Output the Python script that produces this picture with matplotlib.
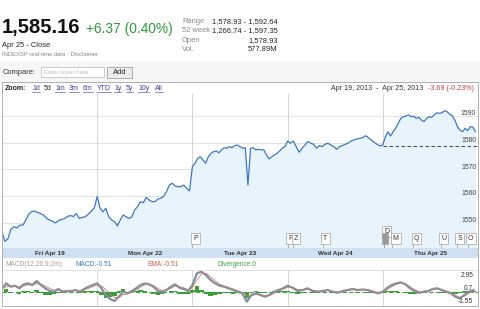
import matplotlib
matplotlib.use('Agg')
import matplotlib.pyplot as plt
from matplotlib.patches import Rectangle
from matplotlib import transforms

plt.rcParams['font.family'] = ['Liberation Sans', 'DejaVu Sans']

# ---------------- data ----------------
day_labels = ['Fri Apr 19', 'Mon Apr 22', 'Tue Apr 23', 'Wed Apr 24', 'Thu Apr 25']

price_fri = [1546.6, 1543.0, 1544.0, 1547.5, 1548.5, 1548.0, 1549.1, 1549.0, 1551.0, 1553.2,
             1554.2, 1554.3, 1553.8, 1553.4, 1552.8, 1551.6, 1551.0, 1550.5, 1549.9, 1550.8,
             1551.2, 1551.5, 1552.3, 1552.7, 1552.3, 1553.4, 1551.6, 1552.0, 1552.2, 1553.2,
             1554.3, 1555.5]
price_mon = [1559.8, 1555.4, 1554.1, 1555.4, 1552.2, 1551.0, 1550.4, 1548.8, 1551.0, 1552.9,
             1552.2, 1551.6, 1552.2, 1554.8, 1556.0, 1557.9, 1557.5, 1559.5, 1558.5, 1557.9,
             1557.9, 1558.8, 1559.2, 1559.8, 1561.6, 1564.1, 1564.8, 1563.8, 1563.5, 1563.5,
             1564.1, 1562.9, 1561.9]
price_tue = [1571.0, 1572.3, 1574.1, 1574.7, 1573.5, 1572.3, 1574.7, 1576.0, 1576.6, 1576.9,
             1576.2, 1577.3, 1578.1, 1577.9, 1578.5, 1578.1, 1578.9, 1579.1, 1578.5, 1577.9,
             1578.1, 1564.1, 1577.9, 1578.1, 1577.3, 1577.5, 1577.3, 1577.3, 1575.4, 1573.9,
             1574.7, 1575.4, 1576.0, 1576.9, 1577.9, 1578.5]
price_wed = [1580.6, 1579.8, 1580.6, 1578.5, 1576.4, 1577.9, 1579.1, 1580.4, 1579.8, 1579.4,
             1577.9, 1578.9, 1578.5, 1579.4, 1579.8, 1579.1, 1578.5, 1577.5, 1578.5, 1578.9,
             1579.4, 1579.8, 1580.6, 1581.0, 1581.4, 1581.6, 1581.9, 1582.6, 1581.9, 1581.0,
             1580.1, 1579.4, 1578.8]
price_thu = [1579.1, 1582.2, 1584.1, 1582.5, 1584.1, 1585.4, 1587.3, 1589.1, 1589.7, 1590.0,
             1590.4, 1589.7, 1590.0, 1589.1, 1589.5, 1588.5, 1587.9, 1589.1, 1589.7, 1589.5,
             1590.4, 1591.2, 1591.0, 1591.2, 1592.0, 1591.6, 1590.7, 1590.0, 1588.5, 1586.0,
             1584.7, 1584.1, 1585.4, 1584.5, 1586.0, 1585.8, 1584.1]
price_days = [price_fri, price_mon, price_tue, price_wed, price_thu]
prev_close = 1578.93
price_ticks = [1550, 1560, 1570, 1580, 1590]

macd_fri = [0.71, 1.57, 0.99, 1.16, 0.71, 1.4, 1.57, 1.28, 1.97, 1.28, 0.71, 0.24, 0.12, 0.59,
            0.12, 0.24, 0.24, 0.41, 0.12, 0.59, 0.99, 1.28]
macd_mon = [1.57, 0.71, -0.45, -1.14, -1.49, -0.74, 0.12, -0.16, 0.24, 0.71, 1.28, 1.57, 1.4,
            0.99, 0.24, 0.12, 0.41, 0.99, 1.4, 0.81, 0.59, 0.24]
macd_tue = [1.28, 3.3, 3.58, 3.0, 2.15, 1.57, 1.16, 0.99, 0.71, 0.41, 0.12, -0.16, -1.6, -0.45,
            -0.16, -0.45, -0.74, -0.45, 0.12, 0.41, 0.71]
macd_wed = [1.16, 0.81, 0.24, 0.41, 0.71, 0.24, 0.12, 0.24, 0.41, 0.12, -0.05, 0.24, 0.41, 0.59,
            0.41, 0.5, 0.41, 0.12, -0.16]
macd_thu = [0.12, 0.81, 1.28, 1.57, 1.74, 1.4, 0.71, 0.24, -0.05, 0.12, 0.24, 0.59, 0.71, 0.41,
            0.12, -0.16, -0.74, -1.03, -0.45, 0.12, 0.41]
ema_fri = [0.6, 1.0, 1.1, 1.1, 0.95, 1.1, 1.3, 1.3, 1.5, 1.45, 1.1, 0.7, 0.4, 0.45, 0.3, 0.25,
           0.25, 0.33, 0.25, 0.4, 0.7, 1.0]
ema_mon = [1.3, 1.1, 0.5, -0.3, -0.9, -0.9, -0.4, -0.25, 0.0, 0.4, 0.9, 1.3, 1.4, 1.2, 0.7, 0.35,
           0.38, 0.7, 1.1, 1.0, 0.8, 0.5]
ema_tue = [0.8, 2.2, 3.2, 3.3, 2.7, 2.0, 1.45, 1.1, 0.85, 0.6, 0.3, 0.0, -0.6, -0.6, -0.35, -0.4,
           -0.6, -0.55, -0.15, 0.25, 0.55]
ema_wed = [0.9, 0.9, 0.5, 0.45, 0.6, 0.4, 0.2, 0.2, 0.33, 0.22, 0.05, 0.15, 0.33, 0.5, 0.45,
           0.48, 0.44, 0.25, 0.0]
ema_thu = [0.05, 0.5, 1.0, 1.4, 1.6, 1.5, 1.0, 0.5, 0.1, 0.08, 0.18, 0.45, 0.65, 0.5, 0.25,
           -0.05, -0.5, -0.85, -0.65, -0.15, 0.25]
macd_days = [macd_fri, macd_mon, macd_tue, macd_wed, macd_thu]
ema_days = [ema_fri, ema_mon, ema_tue, ema_wed, ema_thu]
macd_ticks = [2.95, 0.7, -1.55]

flag_letters = ['P', 'F', 'Z', 'T', 'D', '', 'M', 'Q', 'U', 'S', 'O']
flag_times = [2.0, 3.0, 3.06, 3.37, 4.01, 4.01, 4.10, 4.32, 4.61, 4.78, 4.89]
flag_levels = [0, 0, 0, 0, 1, 0, 0, 0, 0, 0, 0]

zoom_links = ['1d', '5d', '1m', '3m', '6m', 'YTD', '1y', '5y', '10y', 'All']
zoom_x = [32, 44, 55, 69, 83, 97, 114, 126, 138, 155]

# ---------------- figure ----------------
W, H = 480, 309
fig = plt.figure(figsize=(4.8, 3.09), dpi=100)
fig.patch.set_facecolor('white')

bg = fig.add_axes([0, 0, 1, 1])
bg.set_xlim(0, W)
bg.set_ylim(H, 0)
bg.axis('off')

# header
bg.text(2, 32.8, '1,585.16', fontsize=14.5, fontweight='bold', color='#111', va='baseline')
bg.text(86, 32.5, '+6.37 (0.40%)', fontsize=9.9, color='#2f9a3a', va='baseline')
bg.text(2, 47.2, 'Apr 25 - Close', fontsize=5.4, color='#222', va='baseline')
bg.text(2, 55.6, 'INDEXSP real-time data - Disclaimer', fontsize=4.2, color='#888', va='baseline')
stat_labels = ['Range', '52 week', 'Open', 'Vol.']
stat_values = ['1,578.93 - 1,592.64', '1,266.74 - 1,597.35', '1,578.93', '577.89M']
for i, (lab, val) in enumerate(zip(stat_labels, stat_values)):
    yb = 23.2 + 9.3 * i
    bg.text(182, yb, lab, fontsize=5.4, color='#888', va='baseline')
    bg.text(277.5, yb, val, fontsize=5.4, color='#222', va='baseline', ha='right')

# compare row
bg.add_patch(Rectangle((0, 61), W, 21, fc='#f6f6f6', ec='none'))
bg.text(3, 74, 'Compare:', fontsize=5.4, color='#333', va='baseline')
bg.add_patch(Rectangle((41, 66.5), 63, 10.5, fc='white', ec='#c4c4c4', lw=0.6))
bg.text(44, 74, 'Enter ticker here', fontsize=4.3, color='#c0c0c0', va='baseline')
bg.add_patch(Rectangle((107, 66.5), 25, 11, fc='#ececec', ec='#a0a0a0', lw=0.6))
bg.text(119.5, 74.3, 'Add', fontsize=5.4, color='#222', va='baseline', ha='center')

# chart frame area
bg.add_patch(Rectangle((2, 82), 476, 224, fc='white', ec='none'))
bg.text(5, 90.5, 'Zoom:', fontsize=5.0, fontweight='bold', color='#222', va='baseline')
link_texts = []
for lab, x in zip(zoom_links, zoom_x):
    col = '#222' if lab == '5d' else '#3a3aa8'
    t = bg.text(x, 90.5, lab, fontsize=5.0, color=col, va='baseline')
    link_texts.append((lab, t))
bg.text(423, 90.5, 'Apr 19, 2013  -  Apr 25, 2013', fontsize=5.1, color='#333',
        va='baseline', ha='right')
bg.text(474, 90.5, '-3.69 (-0.23%)', fontsize=5.1, color='#c8403f', va='baseline', ha='right')

# date band
bg.add_patch(Rectangle((2, 248), 476, 10, fc='#cfe0f3', ec='none'))
bg.plot([2, 478], [248.3, 248.3], color='#b8cde6', lw=0.6)
# MACD text row
bg.text(5, 266, 'MACD(12,26,9,2m)', fontsize=4.8, color='#a0a0a0', va='baseline')
bg.text(76, 266, 'MACD:-0.51', fontsize=4.8, color='#3f7cc0', va='baseline')
bg.text(147, 266, 'EMA:-0.51', fontsize=4.8, color='#c4604a', va='baseline')
bg.text(217, 266, 'Divergence:0', fontsize=4.8, color='#45a045', va='baseline')
bg.plot([2, 478], [270, 270], color='#dddddd', lw=0.6)

n_days = len(day_labels)

# ---------------- main price chart ----------------
ymin, ymax = 1540.5, 1598.25
ax = fig.add_axes([2 / W, 1 - 248 / H, 476 / W, 154 / H])
ax.set_xlim(0, n_days)
ax.set_ylim(ymin, ymax)
ax.axis('off')

times, prices = [], []
for d, vals in enumerate(price_days):
    n = len(vals)
    times += [d + i / n for i in range(n)]
    prices += vals

for v in price_ticks:
    ax.axhline(v, color='#e2e2e2', lw=0.7, zorder=1)
for d in range(1, n_days):
    ax.axvline(d, color='#d6d6d6', lw=0.7, zorder=1)
ax.fill_between(times, prices, ymin, color='#e9f3fc', zorder=2, lw=0)
ax.plot(times, prices, color='#3a78c4', lw=0.9, zorder=3)
ax.plot([n_days - 1, n_days], [prev_close, prev_close], color='#555555', lw=0.8,
        ls=(0, (3.2, 2.2)), zorder=4)

lab_trans = transforms.offset_copy(transforms.blended_transform_factory(ax.transAxes, ax.transData),
                                   fig=fig, y=1.6, units='points')
for v in price_ticks:
    ax.text(0.996, v, str(v), transform=lab_trans, fontsize=4.9, color='#444',
            ha='right', va='center', zorder=6)

xt = ax.get_xaxis_transform()
for d, lab in enumerate(day_labels):
    ax.text(d + 0.5, -0.036, lab, transform=xt, fontsize=4.6, fontweight='bold',
            color='#333', ha='center', va='center', clip_on=False)

# flags
for letter, t, lvl in zip(flag_letters, flag_times, flag_levels):
    yc = 0.063 + 0.043 * lvl
    ax.vlines(t, 0, yc, transform=xt, color='#9a9a9a', lw=0.5, zorder=5)
    fc = '#9a9a9a' if letter == '' else 'white'
    ax.text(t + 0.005, yc, letter if letter else ' ', transform=xt, fontsize=5.0,
            color='#333', ha='left', va='center', zorder=6,
            bbox=dict(boxstyle='square,pad=0.3', fc=fc, ec='#a0a0a0', lw=0.5))

# ---------------- MACD panel ----------------
ax2 = fig.add_axes([2 / W, 1 - 306 / H, 476 / W, 36 / H])
ax2.set_xlim(0, n_days)
ax2.set_ylim(-2.35, 3.88)
ax2.axis('off')
for d in range(1, n_days):
    ax2.axvline(d, color='#d6d6d6', lw=0.7, zorder=1)

mt, mv, ev = [], [], []
widths = []
for d, (mvals, evals) in enumerate(zip(macd_days, ema_days)):
    n = len(mvals)
    mt += [d + i / n for i in range(n)]
    mv += mvals
    ev += evals
    widths += [1 / n] * n
div = [m - e for m, e in zip(mv, ev)]
ax2.axhline(0, color='#3f9f3f', lw=0.8, ls=(0, (4, 2)), zorder=2)
ax2.bar(mt, div, width=widths, color='#3a9d3a', zorder=3, lw=0)
ax2.plot(mt, mv, color='#8e8e8e', lw=1.6, zorder=4)
ax2.plot(mt, ev, color='#c77f74', lw=0.6, zorder=5)
ax2.plot(mt, mv, color='#6f93c0', lw=0.5, zorder=5, alpha=0.8)
for v in macd_ticks:
    ax2.text(0.99, v, f'{v:g}', transform=transforms.blended_transform_factory(ax2.transAxes, ax2.transData),
             fontsize=4.8, color='#333', ha='right', va='center', zorder=6)

# frame on top
fig.add_artist(Rectangle((2, 82), 476, 224, transform=bg.transData, fill=False,
                         ec='#b0b0b0', lw=0.7, zorder=10))

# underline zoom links
fig.canvas.draw()
inv = bg.transData.inverted()
for lab, t in link_texts:
    if lab == '5d':
        continue
    bb = t.get_window_extent()
    (x0, _), (x1, _) = inv.transform([(bb.x0, bb.y0), (bb.x1, bb.y1)])
    bg.plot([x0, x1], [91.5, 91.5], color='#3a3aa8', lw=0.4)

fig.savefig('out.png', dpi=100, facecolor='white')
